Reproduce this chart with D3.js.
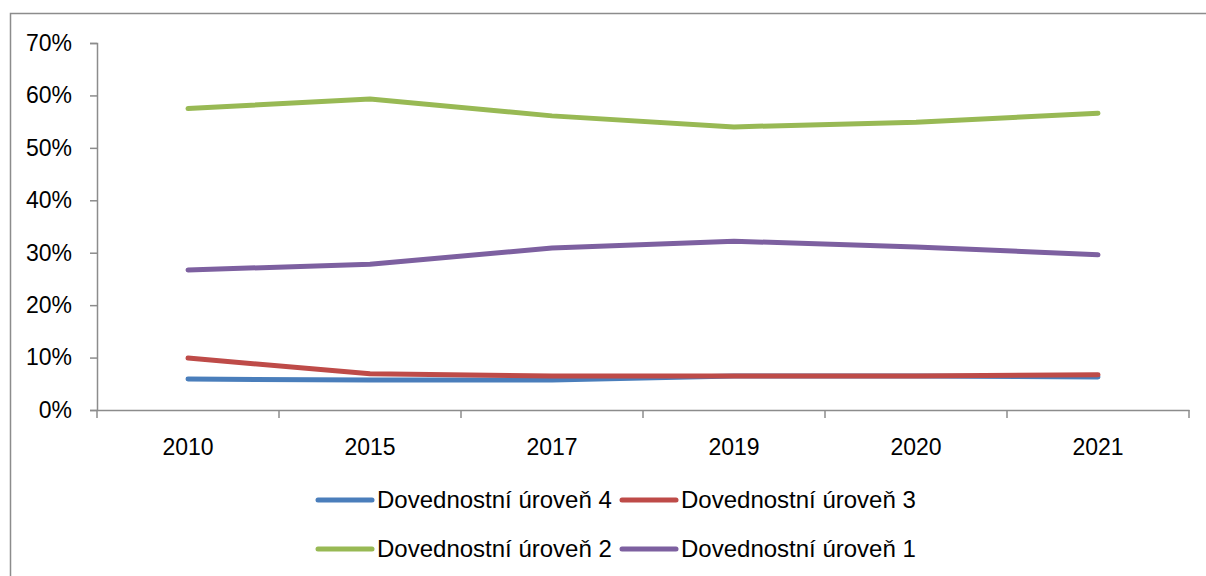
<!DOCTYPE html>
<html>
<head>
<meta charset="utf-8">
<script src="https://cdn.jsdelivr.net/npm/d3@7"></script>
<style>
  html, body { margin: 0; padding: 0; background: #fff; }
  svg { display: block; font-family: "Liberation Sans", Arial, sans-serif; }
</style>
</head>
<body>
<svg id="chart" width="1206" height="576"></svg>
<script>
// Years on the category axis
const years = ["2010", "2015", "2017", "2019", "2020", "2021"];

// Share of respondents per skill level (percent)
const level4 = [5.9, 5.7, 5.7, 6.5, 6.5, 6.3];
const level3 = [9.9, 6.9, 6.5, 6.5, 6.5, 6.7];
const level2 = [57.5, 59.3, 56.1, 54.0, 54.9, 56.6];
const level1 = [26.7, 27.8, 30.9, 32.2, 31.1, 29.6];

const seriesNames = ["Dovednostní úroveň 4", "Dovednostní úroveň 3", "Dovednostní úroveň 2", "Dovednostní úroveň 1"];
const yTicks = [0, 10, 20, 30, 40, 50, 60, 70];

const series = [
  { name: seriesNames[0], values: level4, color: "#4a7ebb" },
  { name: seriesNames[1], values: level3, color: "#be4b48" },
  { name: seriesNames[2], values: level2, color: "#98b954" },
  { name: seriesNames[3], values: level1, color: "#7d60a0" }
];

const fontSize = 23;
const legendFontSize = 24;
const svg = d3.select("#chart");

// Outer chart frame
svg.append("rect")
  .attr("x", 10.5).attr("y", 13.5)
  .attr("width", 1220).attr("height", 600)
  .attr("fill", "none").attr("stroke", "#8c8c8c").attr("stroke-width", 1.5);

const plot = { left: 97, right: 1189, top: 43, bottom: 410 };

const x = d3.scaleBand().domain(years).range([plot.left, plot.right]);
const y = d3.scaleLinear().domain([0, 70]).range([plot.bottom, plot.top]);

const axisColor = "#8c8c8c";

// Y axis
const yAxis = svg.append("g")
  .attr("transform", `translate(${plot.left},0)`)
  .call(d3.axisLeft(y).tickValues(yTicks).tickSize(7).tickPadding(18)
    .tickFormat(d => d + "%"));
yAxis.select(".domain").attr("stroke", axisColor).attr("stroke-width", 1.5);
yAxis.selectAll(".tick line").attr("stroke", axisColor).attr("stroke-width", 1.5);
yAxis.selectAll(".tick text").attr("font-size", fontSize).attr("fill", "#000")
  .attr("font-family", "Liberation Sans, Arial, sans-serif");

// X axis with ticks between categories
const xAxis = svg.append("g")
  .attr("transform", `translate(0,${plot.bottom})`)
  .call(d3.axisBottom(x).tickSize(0).tickPadding(0));
xAxis.select(".domain").attr("stroke", axisColor).attr("stroke-width", 1.5);
xAxis.selectAll(".tick text").attr("font-size", fontSize).attr("fill", "#000")
  .attr("font-family", "Liberation Sans, Arial, sans-serif")
  .attr("y", 37).attr("dy", "0.35em");
const boundaries = years.map(d => x(d)).concat([x(years[years.length - 1]) + x.bandwidth()]);
xAxis.selectAll(".sep").data(boundaries).enter().append("line")
  .attr("class", "sep")
  .attr("x1", d => d).attr("x2", d => d)
  .attr("y1", 0).attr("y2", 8)
  .attr("stroke", axisColor).attr("stroke-width", 1.5);

// Lines
const line = d3.line()
  .x((d, i) => x(years[i]) + x.bandwidth() / 2)
  .y(d => y(d));

svg.append("g").selectAll("path").data(series).enter().append("path")
  .attr("d", d => line(d.values))
  .attr("fill", "none")
  .attr("stroke", d => d.color)
  .attr("stroke-width", 5)
  .attr("stroke-linecap", "round")
  .attr("stroke-linejoin", "round");

// Legend, two rows of two entries
const legendPos = [
  { x: 318, y: 500 }, { x: 622, y: 500 },
  { x: 318, y: 549 }, { x: 622, y: 549 }
];
const legend = svg.append("g").selectAll("g").data(series).enter().append("g")
  .attr("transform", (d, i) => `translate(${legendPos[i].x},${legendPos[i].y})`);
legend.append("line")
  .attr("x1", 0).attr("x2", 54).attr("y1", 0).attr("y2", 0)
  .attr("stroke", d => d.color).attr("stroke-width", 5)
  .attr("stroke-linecap", "round");
legend.append("text")
  .attr("x", 59).attr("y", 0).attr("dy", "0.35em")
  .attr("font-size", legendFontSize)
  .text(d => d.name);
</script>
</body>
</html>
